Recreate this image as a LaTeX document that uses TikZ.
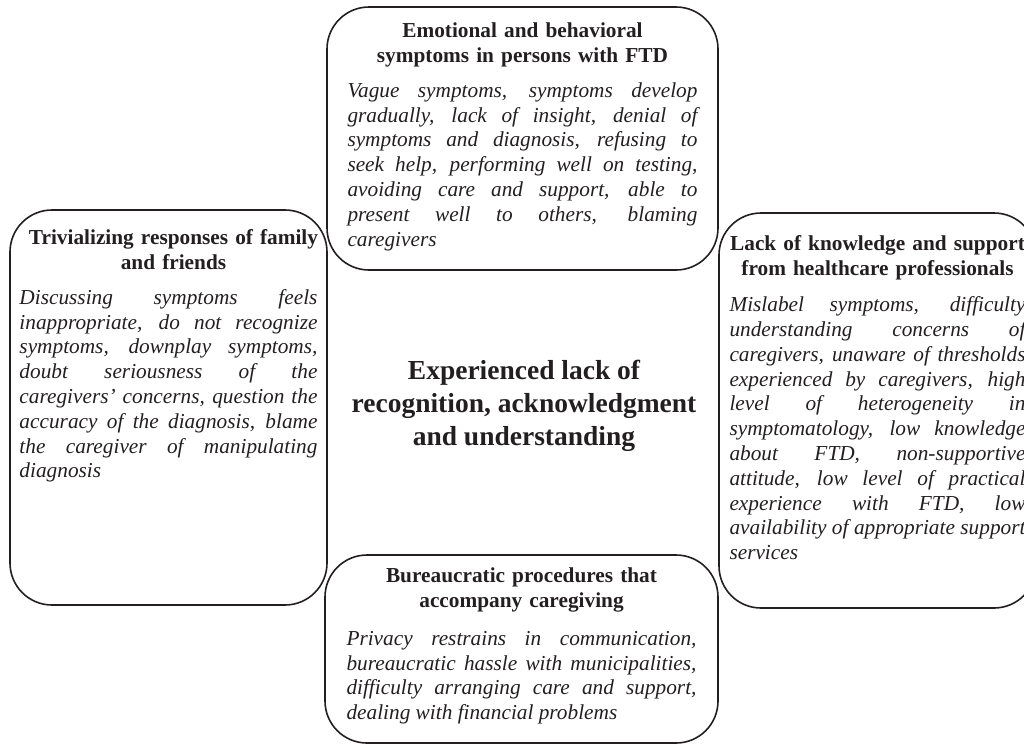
\documentclass[tikz,border=0pt]{standalone}
\usepackage{fontspec}
\setmainfont{Liberation Serif}
\usetikzlibrary{positioning}
\definecolor{ink}{HTML}{231F20}

\begin{document}
\begin{tikzpicture}[
      x=1pt, y=-1pt,
      box/.style={draw=ink, line width=1.6pt, rounded corners=42pt, inner sep=0pt},
      head/.style={text width=#1, align=center, inner sep=0pt, text=ink,
        font=\bfseries\fontsize{21.3}{24.8}\selectfont,
        execute at begin node=\strut, execute at end node=\strut},
      body/.style={text width=#1, align=justify, inner sep=0pt, text=ink,
        font=\itshape\fontsize{21.3}{24.8}\selectfont,
        execute at begin node=\strut, execute at end node=\strut},
      core/.style={align=center, inner sep=0pt, text=ink,
        font=\bfseries\fontsize{27.5}{33}\selectfont}
    ]
    \useasboundingbox (0,0) rectangle (1024,747);

    % the four theme boxes
    \node[box, minimum width=391pt, minimum height=263pt] (emot) at (522.5,138.5) {};
    \node[box, minimum width=317pt, minimum height=395pt] (trivial) at (168.5,407.5) {};
    \node[box, minimum width=317pt, minimum height=395pt] (lackknow) at (877.5,410.5) {};
    \node[box, minimum width=393pt, minimum height=188pt] (bureau) at (521.5,649) {};

    % top
    \node[head=350pt, below=13.6pt of emot.north] (emothead) {Emotional and behavioral\\symptoms in persons with FTD};
    \node[body=350pt, below=10pt of emothead] (emotbody) {Vague symptoms, symptoms develop\linebreak
      gradually, lack of insight, denial of\linebreak
      symptoms and diagnosis, refusing to\linebreak
      seek help, performing well on testing,\linebreak
      avoiding care and support, able to\linebreak
      present well to others, blaming\linebreak
      caregivers};

    % left
    \node[head=298pt, below=17.6pt of trivial.north, xshift=5pt] (trivialhead) {Trivializing responses of family\\and friends};
    \node[body=298pt, below=10pt of trivialhead, xshift=-5pt] (trivialbody) {Discussing symptoms feels\linebreak
      inappropriate, do not recognize\linebreak
      symptoms, downplay symptoms,\linebreak
      doubt seriousness of the\linebreak
      caregivers' concerns, question the\linebreak
      accuracy of the diagnosis, blame\linebreak
      the caregiver of manipulating\linebreak
      diagnosis};

    % right
    \node[head=296pt, below=21pt of lackknow.north] (lackhead) {Lack of knowledge and support\\from healthcare professionals};
    \node[body=296pt, below=11pt of lackhead] (lackbody) {Mislabel symptoms, difficulty\linebreak
      understanding concerns of\linebreak
      caregivers, unaware of thresholds\linebreak
      experienced by caregivers, high\linebreak
      level of heterogeneity in\linebreak
      symptomatology, low knowledge\linebreak
      about FTD, non-supportive\linebreak
      attitude, low level of practical\linebreak
      experience with FTD, low\linebreak
      availability of appropriate support\linebreak
      services};

    % bottom
    \node[head=350pt, below=10.6pt of bureau.north] (bureauhead) {Bureaucratic procedures that\\accompany caregiving};
    \node[body=350pt, below=13pt of bureauhead] (bureaubody) {Privacy restrains in communication,\linebreak
      bureaucratic hassle with municipalities,\linebreak
      difficulty arranging care and support,\linebreak
      dealing with financial problems};

    % centre
    \node[core] (lack) at (524,406) {Experienced lack of\\recognition, acknowledgment\\and understanding};
  \end{tikzpicture}
\end{document}
